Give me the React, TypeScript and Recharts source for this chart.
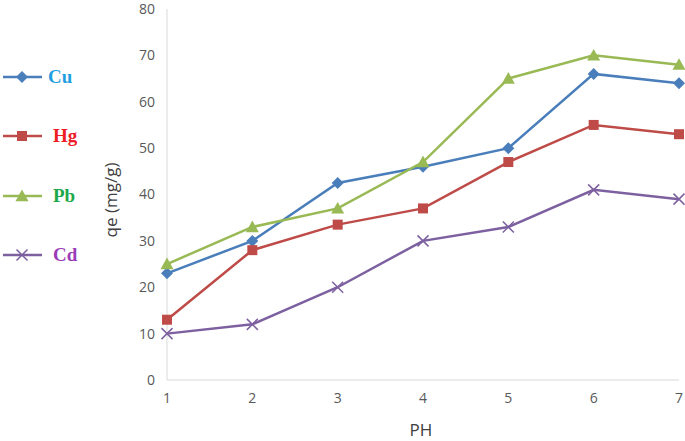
import { LineChart, Line, XAxis, YAxis } from "recharts"

const phValues = [1, 2, 3, 4, 5, 6, 7]
const cuValues = [23, 30, 42.5, 46, 50, 66, 64]
const hgValues = [13, 28, 33.5, 37, 47, 55, 53]
const pbValues = [25, 33, 37, 47, 65, 70, 68]
const cdValues = [10, 12, 20, 30, 33, 41, 39]
const yTicks = [0, 10, 20, 30, 40, 50, 60, 70, 80]

const seriesNames = ["Cu", "Hg", "Pb", "Cd"]
const lineColors = ["#4a7ebb", "#be4b48", "#98b954", "#7d60a0"]
const labelColors = ["#1f9fe0", "#ee1c25", "#1ea84a", "#9b3cb7"]
const shapes = ["diamond", "square", "triangle", "cross"]

const data = phValues.map((ph, i) => ({
  ph,
  Cu: cuValues[i],
  Hg: hgValues[i],
  Pb: pbValues[i],
  Cd: cdValues[i],
}))

function Marker({ shape, cx, cy, color }: { shape: string; cx: number; cy: number; color: string }) {
  if (shape === "diamond") {
    const r = 6
    return <path d={`M${cx},${cy - r}L${cx + r},${cy}L${cx},${cy + r}L${cx - r},${cy}Z`} fill={color} />
  }
  if (shape === "square") {
    const r = 5
    return <rect x={cx - r} y={cy - r} width={r * 2} height={r * 2} fill={color} />
  }
  if (shape === "triangle") {
    const r = 6.5
    return <path d={`M${cx},${cy - r}L${cx + r},${cy + r * 0.8}L${cx - r},${cy + r * 0.8}Z`} fill={color} />
  }
  const r = 5.5
  return (
    <path
      d={`M${cx - r},${cy - r}L${cx + r},${cy + r}M${cx - r},${cy + r}L${cx + r},${cy - r}`}
      stroke={color}
      strokeWidth={1.5}
      fill="none"
    />
  )
}

const makeDot = (idx: number) => (props: any) => {
  const { cx, cy, index } = props
  if (cx == null || cy == null) return <g key={index} />
  return (
    <g key={`${seriesNames[idx]}-${index}`}>
      <Marker shape={shapes[idx]} cx={cx} cy={cy} color={lineColors[idx]} />
    </g>
  )
}

const rowY = [77, 136, 196, 255]

function SideLegend() {
  return (
    <svg width={110} height={300} style={{ position: "absolute", left: 0, top: 0 }}>
      {seriesNames.map((name, i) => (
        <g key={name}>
          <line x1={3} x2={42} y1={rowY[i]} y2={rowY[i]} stroke={lineColors[i]} strokeWidth={2.5} />
          <Marker shape={shapes[i]} cx={22} cy={rowY[i]} color={lineColors[i]} />
          <text
            x={i === 0 ? 48 : 53}
            y={rowY[i] + 6}
            fill={labelColors[i]}
            fontFamily="'Liberation Serif', 'Times New Roman', serif"
            fontWeight="bold"
            fontSize={19}
          >
            {name}
          </text>
        </g>
      ))}
    </svg>
  )
}

const tickStyle = { fill: "#595959", fontSize: 14, fontFamily: "'Open Sans', 'Liberation Sans', sans-serif" }

export default function App() {
  return (
    <div style={{ position: "absolute", left: 0, top: 0, width: 685, height: 441, background: "#fff" }}>
      <LineChart width={685} height={441} data={data} margin={{ top: 9, right: 6, bottom: 31, left: 0 }}>
        <XAxis
          dataKey="ph"
          type="number"
          domain={[1, 7]}
          ticks={phValues}
          tickLine={false}
          axisLine={{ stroke: "#d9d9d9" }}
          tick={tickStyle}
          tickMargin={7}
          height={30}
          interval={0}
        />
        <YAxis
          width={167}
          domain={[0, 80]}
          ticks={yTicks}
          tickLine={false}
          axisLine={{ stroke: "#d9d9d9" }}
          tick={tickStyle}
          tickMargin={6}
          interval={0}
        />
        {seriesNames.map((name, i) => (
          <Line
            key={name}
            dataKey={name}
            stroke={lineColors[i]}
            strokeWidth={2.5}
            dot={makeDot(i)}
            activeDot={false}
            isAnimationActive={false}
          />
        ))}
        <text
          x={112}
          y={200}
          transform="rotate(-90 112 200)"
          textAnchor="middle"
          dominantBaseline="middle"
          fill="#404040"
          fontSize={17}
          fontFamily="'Open Sans', 'Liberation Sans', sans-serif"
        >
          qe (mg/g)
        </text>
        <text
          x={421}
          y={431}
          textAnchor="middle"
          dominantBaseline="middle"
          fill="#404040"
          fontSize={17}
          fontFamily="'Open Sans', 'Liberation Sans', sans-serif"
        >
          PH
        </text>
      </LineChart>
      <SideLegend />
    </div>
  )
}
